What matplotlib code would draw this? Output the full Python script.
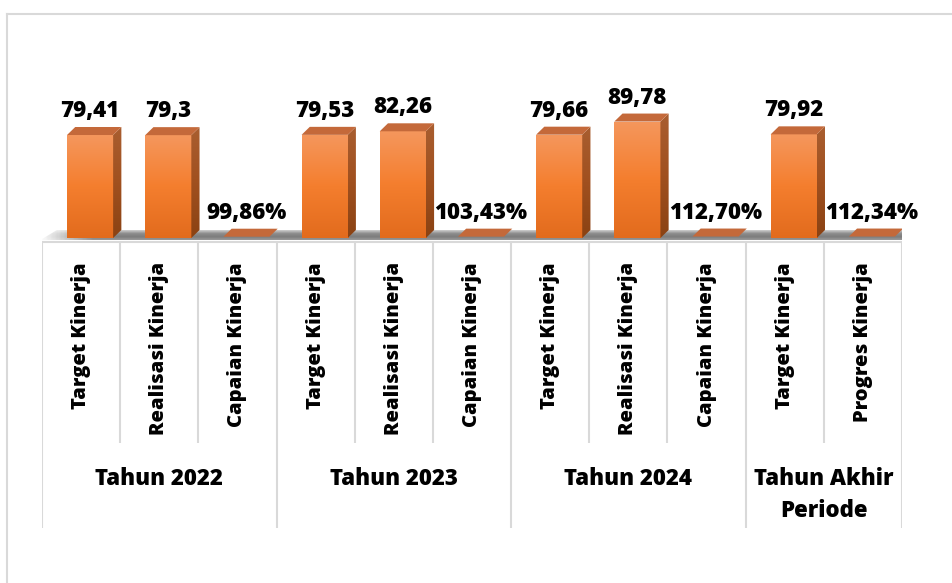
import numpy as np
import matplotlib.pyplot as plt
from matplotlib.patches import Polygon, Rectangle
from matplotlib.lines import Line2D
from matplotlib.colors import LinearSegmentedColormap

plt.rcParams['font.family'] = ['Open Sans', 'DejaVu Sans']

groups = ['Tahun 2022', 'Tahun 2023', 'Tahun 2024', 'Tahun Akhir\nPeriode']
group_sizes = [3, 3, 3, 2]
categories = ['Target Kinerja', 'Realisasi Kinerja', 'Capaian Kinerja',
              'Target Kinerja', 'Realisasi Kinerja', 'Capaian Kinerja',
              'Target Kinerja', 'Realisasi Kinerja', 'Capaian Kinerja',
              'Target Kinerja', 'Progres Kinerja']
values = [79.41, 79.3, 0.9986, 79.53, 82.26, 1.0343, 79.66, 89.78, 1.1270, 79.92, 1.1234]
is_pct = [False, False, True, False, False, True, False, False, True, False, True]

# layout in pixels
W, H = 952, 583
base_px = 238      # pixel row of value 0
k = 1.297          # pixels per value unit
def px2y(p):
    return (base_px - p) / k

fig = plt.figure(figsize=(W / 100, H / 100), dpi=100)
ax = fig.add_axes([42 / W, 0, 860 / W, 1])
ax.axis('off')

front_cmap = LinearSegmentedColormap.from_list('f', ['#E26B1D', '#F47E2E', '#F5975D'])
side_cmap = LinearSegmentedColormap.from_list('s', ['#8A4213', '#A0501F', '#A95E30'])
floor_cmap = LinearSegmentedColormap.from_list('fl', ['#9a9a9a', '#7c7c7c', '#8e8e8e', '#cfcfcf'])

off = 0.115
w = 0.59
dx = 0.105
dy = 8 / k
grad = np.linspace(0, 1, 256).reshape(-1, 1)
FW = 800

# floor shadow
floor = Polygon([(-0.52, px2y(240)), (10.55, px2y(240)), (10.76, px2y(230)), (-0.31, px2y(230))],
                closed=True, facecolor='none', edgecolor='none')
ax.add_patch(floor)
fimg = np.linspace(0, 1, 64).reshape(-1, 1) * np.ones((1, 200))
rgba = floor_cmap(fimg)
fade = np.clip(np.linspace(0, 1, 200) / 0.06, 0, 1)
rgba[..., 3] = fade[None, :]
im = ax.imshow(rgba, extent=(-0.55, 10.8, px2y(240), px2y(230)), origin='lower',
               aspect='auto', zorder=1)
im.set_clip_path(floor)

for i, v in enumerate(values):
    x0 = i + off - w / 2
    x1 = x0 + w
    if v > 2:
        fr = Rectangle((x0, 0), w, v, facecolor='none', edgecolor='none')
        ax.add_patch(fr)
        im = ax.imshow(grad, cmap=front_cmap, extent=(x0, x1, 0, v), origin='lower',
                       aspect='auto', zorder=3)
        im.set_clip_path(fr)
        sd = Polygon([(x1, 0), (x1 + dx, dy), (x1 + dx, v + dy), (x1, v)], closed=True,
                     facecolor='none', edgecolor='none')
        ax.add_patch(sd)
        im = ax.imshow(grad, cmap=side_cmap, extent=(x1, x1 + dx, 0, v + dy), origin='lower',
                       aspect='auto', zorder=3)
        im.set_clip_path(sd)
    ax.add_patch(Polygon([(x0, v), (x1, v), (x1 + dx, v + dy), (x0 + dx, v + dy)], closed=True,
                         facecolor='#C4693A', edgecolor='none', zorder=4))
    if is_pct[i]:
        lab = f'{v * 100:.2f}%'.replace('.', ',')
    else:
        lab = f'{v:g}'.replace('.', ',')
    ax.text(x0 + w / 2, v + dy + 10 / k, lab, ha='center', va='baseline',
            fontsize=16, fontweight=FW, color='black', zorder=5)

# category axis
grid_c = '#D9D9D9'
ax.plot([-0.5, 10.5], [px2y(242), px2y(242)], color=grid_c, lw=1.5, solid_capstyle='butt')
bounds = np.cumsum([0] + group_sizes) - 0.5
for b in np.arange(-0.5, 11, 1.0):
    end = 528 if np.any(np.isclose(bounds, b)) else 443
    ax.plot([b, b], [px2y(242), px2y(end)], color=grid_c, lw=1.5, solid_capstyle='butt')

for i, c in enumerate(categories):
    ax.text(i, px2y(262), c, rotation=90, ha='center', va='top',
            fontsize=14.5, fontweight=FW)

for g, n, b in zip(groups, group_sizes, bounds):
    nl = g.count('\n')
    ax.text(b + n / 2, px2y(479 + nl * 16), g, ha='center', va='center',
            fontsize=16, fontweight=FW, linespacing=1.4)

ax.set_xlim(-0.5, 10.5)
ax.set_ylim(px2y(H), px2y(0))

# outer frame (top and left)
fig.add_artist(Line2D([7 / W, 1], [1 - 14 / H, 1 - 14 / H], color=grid_c, lw=1.5))
fig.add_artist(Line2D([7 / W, 7 / W], [0, 1 - 14 / H], color=grid_c, lw=1.5))

fig.savefig('out.png', dpi=100)
